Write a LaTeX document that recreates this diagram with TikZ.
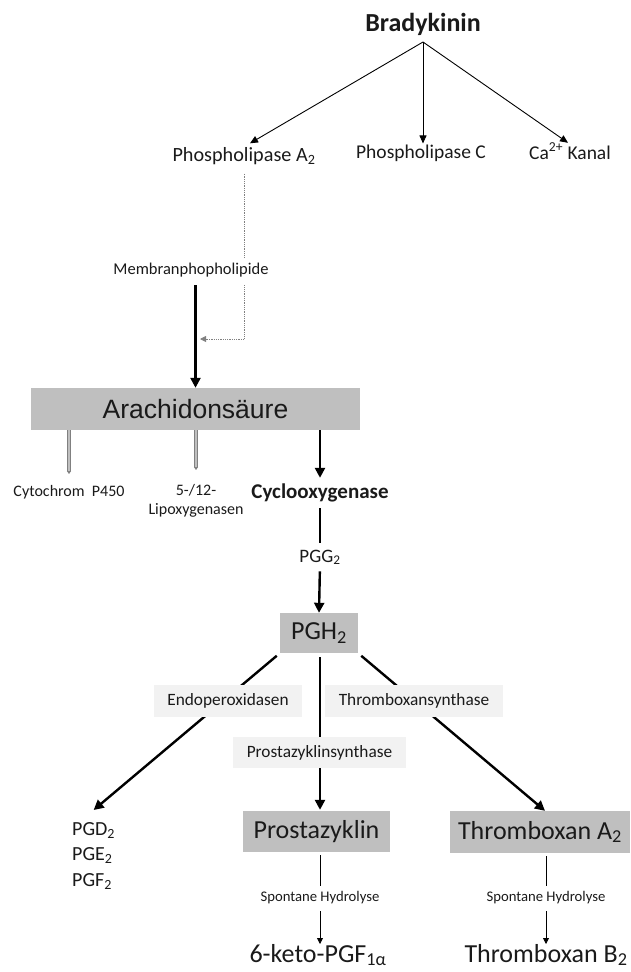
\documentclass[tikz,border=0pt]{standalone}
\usepackage{fontspec}
\setmainfont{Carlito}
\newfontfamily\arialfont{Liberation Sans}
\usepackage{xcolor}
\usetikzlibrary{arrows.meta}
\definecolor{boxgray}{HTML}{BFBFBF}
\definecolor{enzgray}{HTML}{F2F2F2}
\definecolor{txtgray}{HTML}{1A1A1A}

\begin{document}
\begin{tikzpicture}[x=1pt, y=-1pt,
  lbl/.style={inner sep=0pt, text height=.7em, text depth=.2em, anchor=base, text=txtgray},
  greybox/.style={fill=boxgray, inner sep=0pt, text=txtgray, font=\fontsize{26}{30}\selectfont},
  enzbox/.style={fill=enzgray, inner sep=0pt, minimum height=32pt, text=txtgray, font=\fontsize{17.3}{20}\selectfont},
  thinarrow/.style={line width=0.9pt, -{Triangle[length=8pt,width=7pt]}},
  heavy/.style={line width=2.4pt},
  heavyarrow/.style={heavy, -{Triangle[length=10pt,width=10pt]}},
  hollow/.style={draw=gray, double=lightgray, double distance=1.6pt, line width=0.8pt, -{Triangle[length=3pt,width=4pt]}},
  dotline/.style={gray, densely dotted, line width=0.8pt, -{Triangle[length=6pt,width=6pt]}},
  smallarrow/.style={line width=0.8pt, -{Triangle[length=6pt,width=6pt]}}]
        \useasboundingbox (0,0) rectangle (631,972);
        \node[lbl, inner ysep=8.8pt, font=\bfseries\fontsize{26}{30}\selectfont] (brady) at (423,31) {Bradykinin};
        \node[lbl, inner ysep=10.5pt, font=\fontsize{20.2}{24}\selectfont] (pla) at (244,161) {Phospholipase A\textsubscript{2}};
        \node[lbl, inner ysep=7.35pt, font=\fontsize{19.5}{23}\selectfont] (plc) at (421,158) {Phospholipase C};
        \node[lbl, inner ysep=9pt, font=\fontsize{19.5}{23}\selectfont] (ca) at (570,159) {Ca\textsuperscript{2+} Kanal};
        \draw[thinarrow] (brady.south) -- ([xshift=6pt]pla.north);
        \draw[thinarrow] (brady.south) -- (brady.south |- plc.north);
        \draw[thinarrow] (brady.south) -- ([xshift=-2pt]ca.north);
        \coordinate (join) at (200,339);
        \draw[dotline] (pla.south) |- (join);
        \node[lbl, inner ysep=9pt, fill=white, font=\fontsize{16.5}{20}\selectfont] (mem) at (191,274) {Membranphopholipide};
        \node[greybox, minimum width=329pt, minimum height=42pt, font=\arialfont\fontsize{26.5}{30}\selectfont] (ara) at (195.5,409) {Arachidonsäure};
        \draw[heavyarrow] (ara.north |- mem.south) -- (ara.north);
        \node[lbl, font=\fontsize{16}{20}\selectfont] (cyt) at (69,496) {Cytochrom\ \ P450};
        \node[anchor=north, inner sep=0pt, align=center, text=txtgray, font=\fontsize{16}{19.5}\selectfont] (lip) at (196,484) {5-/12-\\Lipoxygenasen};
        \node[lbl, font=\bfseries\fontsize{21}{25}\selectfont] (cox) at (320,498) {Cyclooxygenase};
        \node[lbl, font=\fontsize{19}{23}\selectfont] (pgg) at (320,562) {PGG\textsubscript{2}};
        \node[greybox, minimum width=78pt, minimum height=40pt] (pgh) at (319,633) {PGH\textsubscript{2}};
        \draw[hollow, shorten >=14.8pt] (ara.south -| cyt.north) -- (cyt.north);
        \draw[hollow, shorten >=14pt] (ara.south -| lip.north) -- (lip.north);
        \draw[heavyarrow, shorten >=13pt] (ara.south -| cox.north) -- (cox.north);
        \draw[heavy, shorten <=8pt, shorten >=11.7pt] (cox.south) -- (pgg.north);
        \draw[heavyarrow, shorten <=7.2pt] (pgg.south) -- (pgh.north);
        \node[anchor=north west, inner xsep=0pt, inner ysep=12pt, align=left, text=txtgray, font=\fontsize{20}{25.5}\selectfont] (pgd) at (72,810) {PGD\textsubscript{2}\\PGE\textsubscript{2}\\PGF\textsubscript{2}};
        \node[greybox, minimum width=147pt, minimum height=41pt] (pzk) at (316.5,831.5) {Prostazyklin};
        \node[greybox, minimum width=180pt, minimum height=42pt] (txa) at (540,832) {Thromboxan A\textsubscript{2}};
        \draw[heavyarrow, shorten <=4pt] (pgh.south west) -- (pgd.north);
        \draw[heavyarrow, shorten <=4pt, shorten >=1pt] (pgh.south -| pgg.north) -- (pzk.north -| pgg.north);
        \draw[heavyarrow, shorten <=4pt] (pgh.south east) -- ([xshift=5pt]txa.north);
        \node[enzbox, minimum width=148pt] (endo) at (228,701) {Endoperoxidasen};
        \node[enzbox, minimum width=173pt, minimum height=31pt] (pzs) at (319.5,752.5) {Prostazyklinsynthase};
        \node[enzbox, minimum width=178pt] (txs) at (414,701) {Thromboxansynthase};
        \node[lbl, font=\fontsize{14.7}{18}\selectfont] (hyd1) at (320,901) {Spontane Hydrolyse};
        \node[lbl, font=\fontsize{14.7}{18}\selectfont] (hyd2) at (546,901) {Spontane Hydrolyse};
        \node[lbl, font=\fontsize{26}{30}\selectfont] (keto) at (318,962) {6-keto-PGF\textsubscript{1α}};
        \node[lbl, font=\fontsize{26}{30}\selectfont] (txb) at (546,962) {Thromboxan B\textsubscript{2}};
        \draw[line width=0.8pt, shorten <=3pt, shorten >=7.7pt] (pzk.south -| hyd1.north) -- (hyd1.north);
        \draw[smallarrow, shorten <=8pt, shorten >=10.8pt] (hyd1.south) -- (hyd1.south |- keto.north);
        \draw[line width=0.8pt, shorten <=3pt, shorten >=7.7pt] (txa.south -| hyd2.north) -- (hyd2.north);
        \draw[smallarrow, shorten <=8pt, shorten >=10.8pt] (hyd2.south) -- (hyd2.south |- txb.north);
        \end{tikzpicture}
\end{document}
